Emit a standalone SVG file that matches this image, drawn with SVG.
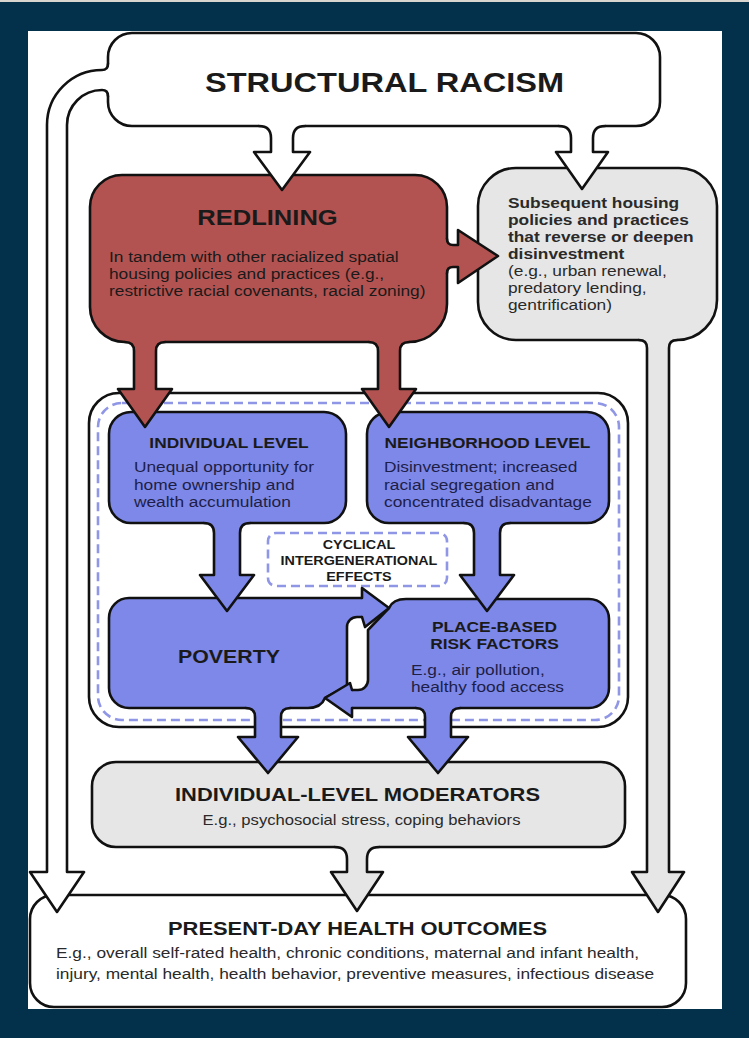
<svg xmlns="http://www.w3.org/2000/svg" width="749" height="1038" viewBox="0 0 749 1038">
  <style>
    .edge{fill:none;stroke:#111;stroke-width:2.6;stroke-linejoin:round;stroke-linecap:round}
    .box{stroke:#111;stroke-width:2.6;stroke-linejoin:round}
    .white{fill:#fff}
    .red{fill:#b35351}
    .blue{fill:#7d88e9}
    .gray{fill:#e6e6e6}
    .dash{fill:none;stroke:#8f96e6;stroke-width:2.6;stroke-dasharray:9 5}
    text{font-family:"Liberation Sans",Arial,Helvetica,sans-serif;fill:#1a1a1a}
    .b{font-weight:bold}
    .mid{text-anchor:middle}
    .body{font-size:15.2px}
    .onblue{fill:#1e1e46}
    .ongray{fill:#2a2a2a}
  </style>

  <!-- page frame -->
  <rect x="0" y="0" width="749" height="1038" fill="#03304a"/>
  <rect x="0" y="0" width="749" height="2" fill="#d9d6d0"/>
  <rect x="28" y="31" width="694" height="978" fill="#fff"/>

  <!-- nodes; wide lettering is a 1.14 horizontal stretch anchored at each block's x -->
  <g id="structural-racism">
    <rect class="box white" x="108" y="33" width="552" height="93" rx="24"/>
    <text class="b mid" x="384.5" y="92" font-size="28.5" textLength="359" lengthAdjust="spacingAndGlyphs">STRUCTURAL RACISM</text>
  </g>

  <g id="redlining">
    <path class="box red" d="M122,175 H415 A32,32 0 0 1 447,207 V304 A38,38 0 0 1 409,342 H125 A35,35 0 0 1 90,307 V207 A32,32 0 0 1 122,175 Z"/>
    <text class="b mid" x="267.5" y="225" font-size="22.4" transform="matrix(1.14 0 0 1 -37.45 0)">REDLINING</text>
    <g transform="matrix(1.14 0 0 1 -15.26 0)">
      <text class="body" x="109" y="262">In tandem with other racialized spatial</text>
      <text class="body" x="109" y="279">housing policies and practices (e.g.,</text>
      <text class="body" x="109" y="296">restrictive racial covenants, racial zoning)</text>
    </g>
  </g>

  <g id="subsequent-policies">
    <path class="box gray" d="M516,168 H679 A38,38 0 0 1 717,206 V300 A40,40 0 0 1 677,340 H516 A38,38 0 0 1 478,302 V206 A38,38 0 0 1 516,168 Z"/>
    <g transform="matrix(1.14 0 0 1 -71.12 0)">
      <text class="b ongray" font-size="15.2" x="508" y="208">Subsequent housing</text>
      <text class="b ongray" font-size="15.2" x="508" y="225">policies and practices</text>
      <text class="b ongray" font-size="15.2" x="508" y="242">that reverse or deepen</text>
      <text class="b ongray" font-size="15.2" x="508" y="259">disinvestment</text>
      <text class="body ongray" x="508" y="276">(e.g., urban renewal,</text>
      <text class="body ongray" x="508" y="293">predatory lending,</text>
      <text class="body ongray" x="508" y="310">gentrification)</text>
    </g>
  </g>

  <g id="pathways-container">
    <rect class="box white" x="89" y="393" width="539" height="334" rx="30"/>
    <rect class="dash" x="98" y="403" width="521" height="317" rx="24"/>
  </g>

  <g id="individual-level">
    <rect class="box blue" x="109" y="412" width="237" height="111" rx="22"/>
    <text class="b mid" x="229" y="448" font-size="15.2" transform="matrix(1.14 0 0 1 -32.06 0)">INDIVIDUAL LEVEL</text>
    <g transform="matrix(1.14 0 0 1 -18.76 0)">
      <text class="body onblue" x="134" y="472">Unequal opportunity for</text>
      <text class="body onblue" x="134" y="490">home ownership and</text>
      <text class="body onblue" x="134" y="507">wealth accumulation</text>
    </g>
  </g>

  <g id="neighborhood-level">
    <rect class="box blue" x="367" y="412" width="242" height="111" rx="22"/>
    <text class="b mid" x="487.5" y="448" font-size="15.2" transform="matrix(1.14 0 0 1 -68.25 0)">NEIGHBORHOOD LEVEL</text>
    <g transform="matrix(1.14 0 0 1 -53.76 0)">
      <text class="body onblue" x="384" y="472">Disinvestment; increased</text>
      <text class="body onblue" x="384" y="490">racial segregation and</text>
      <text class="body onblue" x="384" y="507">concentrated disadvantage</text>
    </g>
  </g>

  <g id="cyclical-effects">
    <rect class="dash" x="268" y="533" width="179" height="53" rx="8"/>
    <g transform="matrix(1.14 0 0 1 -50.26 0)">
      <text class="b mid" x="359" y="549" font-size="12.6">CYCLICAL</text>
      <text class="b mid" x="359" y="565" font-size="12.6">INTERGENERATIONAL</text>
      <text class="b mid" x="359" y="581" font-size="12.6">EFFECTS</text>
    </g>
  </g>

  <g id="poverty">
    <path class="box blue" d="M129,598 H372 V617 H357 A10,10 0 0 0 347,627 V686 L325,698 Q321,708 308,708 H129 A20,20 0 0 1 109,688 V618 A20,20 0 0 1 129,598 Z"/>
    <text class="b mid" x="229" y="663" font-size="18.7" transform="matrix(1.14 0 0 1 -32.06 0)">POVERTY</text>
  </g>

  <g id="place-based-risk">
    <path class="box blue" d="M406,599 H589 A20,20 0 0 1 609,619 V688 A20,20 0 0 1 589,708 H345 V690 H358 A10,10 0 0 0 368,680 V630 L389,608 Q393,599 406,599 Z"/>
    <g transform="matrix(1.14 0 0 1 -69.23 0)">
      <text class="b mid" x="494.5" y="632" font-size="15.2">PLACE-BASED</text>
      <text class="b mid" x="494.5" y="649" font-size="15.2">RISK FACTORS</text>
    </g>
    <g transform="matrix(1.14 0 0 1 -57.54 0)">
      <text class="body onblue" x="411" y="675">E.g., air pollution,</text>
      <text class="body onblue" x="411" y="692">healthy food access</text>
    </g>
  </g>

  <g id="individual-moderators">
    <rect class="box gray" x="92" y="762" width="533" height="85" rx="24"/>
    <text class="b mid" x="357.5" y="801" font-size="19" textLength="365" lengthAdjust="spacingAndGlyphs">INDIVIDUAL-LEVEL MODERATORS</text>
    <text class="mid ongray" x="361.5" y="825" font-size="14.6" transform="matrix(1.14 0 0 1 -50.61 0)">E.g., psychosocial stress, coping behaviors</text>
  </g>

  <g id="health-outcomes">
    <rect class="box white" x="30" y="895" width="656" height="112" rx="24"/>
    <text class="b mid" x="357.5" y="935" font-size="19" textLength="379" lengthAdjust="spacingAndGlyphs">PRESENT-DAY HEALTH OUTCOMES</text>
    <g transform="matrix(1.14 0 0 1 -7.84 0)">
      <text class="body ongray" x="56" y="958">E.g., overall self-rated health, chronic conditions, maternal and infant health,</text>
      <text class="body ongray" x="56" y="979">injury, mental health, health behavior, preventive measures, infectious disease</text>
    </g>
  </g>

  <!-- connectors: each arrow is a fill shape (reaching over the source border) plus an open outline -->
  <g id="connectors">
    <!-- structural racism -> redlining -->
    <path class="white" d="M259,124 L259,126 Q271,126 271,138 V152 H254 L282,190 L310,152 H293 V138 Q293,126 305,126 L305,124 Z"/>
    <path class="edge" d="M259,126 Q271,126 271,138 V152 H254 L282,190 L310,152 H293 V138 Q293,126 305,126"/>

    <!-- structural racism -> subsequent policies -->
    <path class="white" d="M559,124 L559,126 Q571,126 571,138 V152 H556 L582,189 L608,152 H593 V138 Q593,126 605,126 L605,124 Z"/>
    <path class="edge" d="M559,126 Q571,126 571,138 V152 H556 L582,189 L608,152 H593 V138 Q593,126 605,126"/>

    <!-- structural racism -> health outcomes (left pipe) -->
    <path class="white" d="M111,64 L108,64 Q108,70 102,70 A55,55 0 0 0 47,125 V872 H30 L57,912 L84,872 H67 V125 A35,35 0 0 1 102,90 Q108,90 108,96 L111,96 Z"/>
    <path class="edge" d="M108,64 Q108,70 102,70 A55,55 0 0 0 47,125 V872 H30 L57,912 L84,872 H67 V125 A35,35 0 0 1 102,90 Q108,90 108,96"/>

    <!-- redlining -> subsequent policies -->
    <path class="red" d="M445,239 L447,239 Q447,245 453,245 H458 V230 L498,256 L458,283 V267 H453 Q447,267 447,273 L445,273 Z"/>
    <path class="edge" d="M447,239 Q447,245 453,245 H458 V230 L498,256 L458,283 V267 H453 Q447,267 447,273"/>

    <!-- redlining -> individual level -->
    <path class="red" d="M125,340 L125,342 Q134,342 134,351 V389 H118 L145,427 L172,389 H156 V351 Q156,342 165,342 L165,340 Z"/>
    <path class="edge" d="M125,342 Q134,342 134,351 V389 H118 L145,427 L172,389 H156 V351 Q156,342 165,342"/>

    <!-- redlining -> neighborhood level -->
    <path class="red" d="M369,340 L369,342 Q378,342 378,351 V389 H362 L389,427 L416,389 H400 V351 Q400,342 409,342 L409,340 Z"/>
    <path class="edge" d="M369,342 Q378,342 378,351 V389 H362 L389,427 L416,389 H400 V351 Q400,342 409,342"/>

    <!-- subsequent policies -> health outcomes -->
    <path class="gray" d="M639,338 L639,340 Q647,340 647,348 V872 H632 L658,912 L684,872 H669 V348 Q669,340 677,340 L677,338 Z"/>
    <path class="edge" d="M639,340 Q647,340 647,348 V872 H632 L658,912 L684,872 H669 V348 Q669,340 677,340"/>

    <!-- individual level -> poverty -->
    <path class="blue" d="M204,521 L204,523 Q214,523 214,533 V575 H200 L227,611 L254,575 H240 V533 Q240,523 250,523 L250,521 Z"/>
    <path class="edge" d="M204,523 Q214,523 214,533 V575 H200 L227,611 L254,575 H240 V533 Q240,523 250,523"/>

    <!-- neighborhood level -> place-based risk factors -->
    <path class="blue" d="M464,521 L464,523 Q474,523 474,533 V575 H460 L487,611 L514,575 H500 V533 Q500,523 510,523 L510,521 Z"/>
    <path class="edge" d="M464,523 Q474,523 474,533 V575 H460 L487,611 L514,575 H500 V533 Q500,523 510,523"/>

    <!-- poverty <-> place-based risk factors (cyclical) -->
    <path class="blue" d="M362,598 V588 L389,608 L365,627 L362,617 Z"/>
    <path class="edge" d="M362,598 V588 L389,608 L365,627 L362,617"/>
    <path class="blue" d="M352,708 V717 L325,698 L350,683 L352,690 Z"/>
    <path class="edge" d="M352,708 V717 L325,698 L350,683 L352,690"/>

    <!-- poverty -> moderators -->
    <path class="blue" d="M246,706 L246,708 Q255,708 255,717 V737 H238 L268,773 L298,737 H281 V717 Q281,708 290,708 L290,706 Z"/>
    <path class="edge" d="M246,708 Q255,708 255,717 V737 H238 L268,773 L298,737 H281 V717 Q281,708 290,708"/>

    <!-- place-based risk factors -> moderators -->
    <path class="blue" d="M416,706 L416,708 Q425,708 425,717 V737 H408 L438,773 L468,737 H451 V717 Q451,708 460,708 L460,706 Z"/>
    <path class="edge" d="M416,708 Q425,708 425,717 V737 H408 L438,773 L468,737 H451 V717 Q451,708 460,708"/>

    <!-- moderators -> health outcomes -->
    <path class="gray" d="M335,845 L335,847 Q347,847 347,859 V872 H331 L357,911 L383,872 H367 V859 Q367,847 379,847 L379,845 Z"/>
    <path class="edge" d="M335,847 Q347,847 347,859 V872 H331 L357,911 L383,872 H367 V859 Q367,847 379,847"/>
  </g>
</svg>
